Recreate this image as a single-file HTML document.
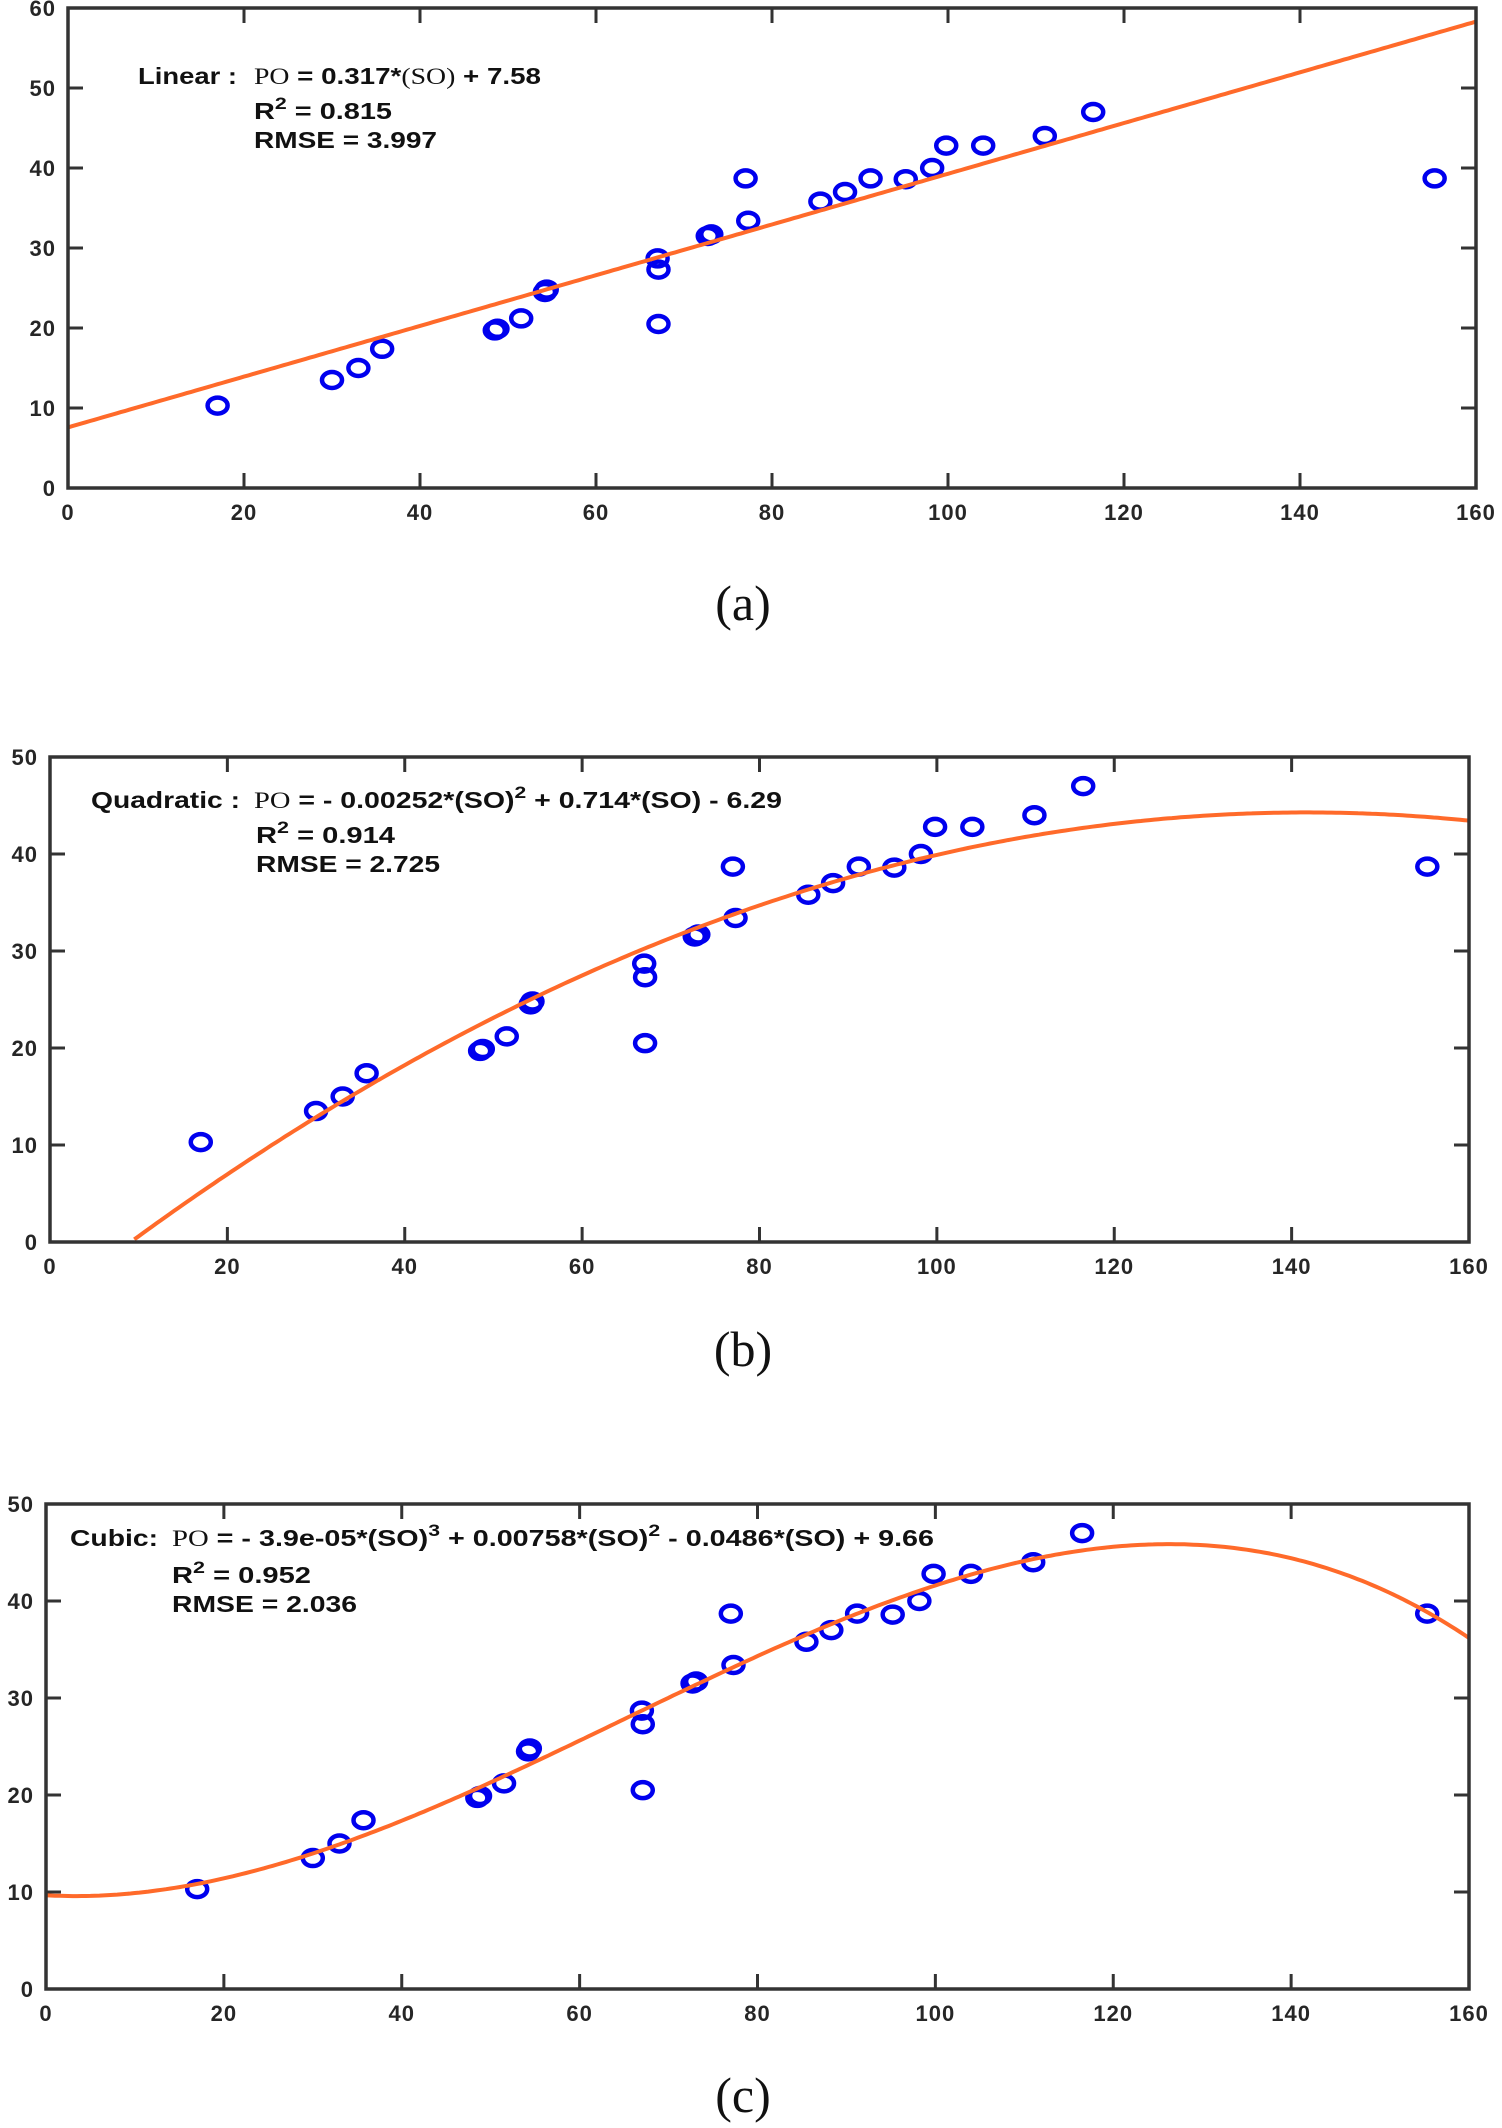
<!DOCTYPE html>
<html><head><meta charset="utf-8">
<style>
html,body{margin:0;padding:0;background:#fff;}
svg{display:block;}
.tick{font-family:"Liberation Sans",sans-serif;font-weight:bold;font-size:22px;fill:#262626;letter-spacing:1px;}
.ann{font-family:"Liberation Sans",sans-serif;font-weight:bold;font-size:23px;fill:#111;}
.cap{font-family:"Liberation Serif",serif;font-size:50px;fill:#111;}
</style></head>
<body>
<svg id="fig" width="1502" height="2128" viewBox="0 0 1502 2128" xmlns="http://www.w3.org/2000/svg"></svg>
<script>
const soValues = [17,30,33,35.7,48.5,48.8,51.5,54.2,54.4,67,67.1,67.1,72.7,73.1,77,77.3,85.5,88.3,91.2,95.2,98.2,99.8,104,111,116.5,155.3];
const poValues = [10.3,13.5,15,17.4,19.7,19.9,21.2,24.5,24.8,28.7,27.3,20.5,31.5,31.7,38.7,33.4,35.8,37,38.7,38.6,40,42.8,42.8,44,47,38.7];
const linearCoef = [7.58,0.317];
const quadCoef = [-6.29,0.714,-0.00252];
const cubicCoef = [9.66,-0.0486,0.00758,-0.000039];
const xTicks = [0,20,40,60,80,100,120,140,160];
const yTicksA = [0,10,20,30,40,50,60];
const yTicksB = [0,10,20,30,40,50];
const yTicksC = [0,10,20,30,40,50];

const NS="http://www.w3.org/2000/svg";
const svg=document.getElementById('fig');
function mk(tag,attrs,parent){const e=document.createElementNS(NS,tag);for(const k in attrs)e.setAttribute(k,attrs[k]);(parent||svg).appendChild(e);return e;}

function panel(id,box,ymax,yTicks,coef,lines,caption){
  const g=mk('g',{});
  
  
  const sx=v=>box.l+(v-0)/160*(box.r-box.l);
  const sy=v=>box.b-(v/ymax)*(box.b-box.t);
  const clip=mk('clipPath',{id:'clip-'+id},g);
  mk('rect',{x:box.l,y:box.t,width:box.r-box.l,height:box.b-box.t},clip);
  xTicks.forEach(t=>{
    const x=sx(t);
    const tk=mk('path',{d:`M${x},${box.b}v-15M${x},${box.t}v15`,stroke:'#333','stroke-width':3},g);
    
    
    const tl=mk('text',{x:x,y:box.b+32,'text-anchor':'middle',class:'tick'},g);
    tl.textContent=t;
    
    
  });
  yTicks.forEach(t=>{
    const y=sy(t);
    const tk=mk('path',{d:`M${box.l},${y}h15M${box.r},${y}h-15`,stroke:'#333','stroke-width':3},g);
    
    
    const tl=mk('text',{x:box.l-12,y:y+8,'text-anchor':'end',class:'tick'},g);
    tl.textContent=t;
    
    
  });
  soValues.forEach((v,i)=>{
    const c=mk('ellipse',{cx:sx(v),cy:sy(poValues[i]),rx:10,ry:8,fill:'none',stroke:'#0000ee','stroke-width':4.5},g);
    
    
  });
  let d='';let started=false;
  for(let x=0;x<=160;x+=0.5){
    let y=0;coef.forEach((c,k)=>{y+=c*Math.pow(x,k);});
    if(y<0){started=false;continue;}
    d+=(started?'L':'M')+sx(x).toFixed(1)+','+sy(y).toFixed(1);started=true;
  }
  const p=mk('path',{d:d,fill:'none',stroke:'#ff6a2a','stroke-width':4,'clip-path':`url(#clip-${id})`},g);
  
  
  const fr=mk('rect',{x:box.l,y:box.t,width:box.r-box.l,height:box.b-box.t,fill:'none',stroke:'#333','stroke-width':3.5},g);
  
  
  lines.forEach(L=>{
    const t=mk('text',{x:L.x,y:L.y,class:'ann'},g);
    if(L.len){t.setAttribute('textLength',L.len);t.setAttribute('lengthAdjust','spacingAndGlyphs');}
    t.innerHTML=L.html;
    
    
  });
  const cp=mk('text',{x:743,y:caption.y,'text-anchor':'middle',class:'cap'},g);
  cp.textContent=caption.t;
  
  
}
const PO='<tspan font-family="Liberation Serif" font-weight="normal">PO</tspan>';
const SO='<tspan font-family="Liberation Serif" font-weight="normal">(SO)</tspan>';
const sup=n=>`<tspan dy="-10" font-size="17">${n}</tspan><tspan dy="10"> </tspan>`;

panel('linear',{l:68,r:1476,t:8,b:488},60,yTicksA,linearCoef,[
  {x:138,y:84,len:99,html:'Linear :',name:'model-label'},
  {x:254,y:84,len:287,html:`${PO} = 0.317*${SO} + 7.58`,name:'equation'},
  {x:254,y:119,len:138,html:`R${sup(2)}= 0.815`,name:'r-squared'},
  {x:254,y:148,len:183,html:'RMSE = 3.997',name:'rmse'}
],{t:'(a)',y:620});

panel('quadratic',{l:50,r:1469,t:757,b:1242},50,yTicksB,quadCoef,[
  {x:91,y:808,len:149,html:'Quadratic :',name:'model-label'},
  {x:254,y:808,len:528,html:`${PO} = - 0.00252*(SO)${sup(2)}+ 0.714*(SO) - 6.29`,name:'equation'},
  {x:256,y:843,len:139,html:`R${sup(2)}= 0.914`,name:'r-squared'},
  {x:256,y:872,len:184,html:'RMSE = 2.725',name:'rmse'}
],{t:'(b)',y:1366});

panel('cubic',{l:46,r:1469,t:1504,b:1989},50,yTicksC,cubicCoef,[
  {x:70,y:1546,len:88,html:'Cubic:',name:'model-label'},
  {x:172,y:1546,len:762,html:`${PO} = - 3.9e-05*(SO)${sup(3)}+ 0.00758*(SO)${sup(2)}- 0.0486*(SO) + 9.66`,name:'equation'},
  {x:172,y:1583,len:139,html:`R${sup(2)}= 0.952`,name:'r-squared'},
  {x:172,y:1612,len:185,html:'RMSE = 2.036',name:'rmse'}
],{t:'(c)',y:2112});
</script>
</body></html>
